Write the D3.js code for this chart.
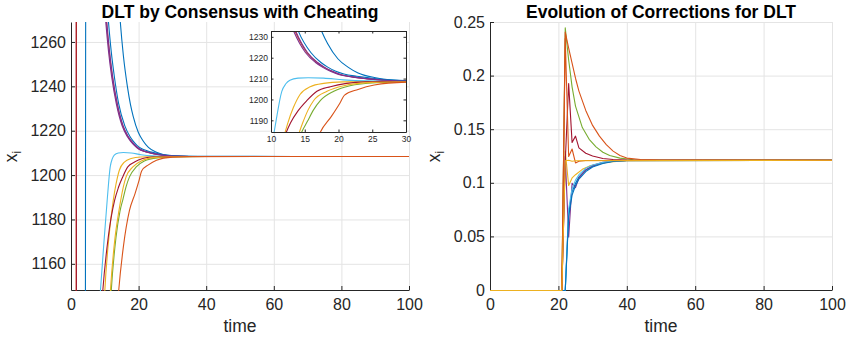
<!DOCTYPE html>
<html><head><meta charset="utf-8">
<script src="https://cdn.jsdelivr.net/npm/d3@7"></script>
<style>
html,body{margin:0;padding:0;background:#fff;}
svg{display:block;font-family:"Liberation Sans",Arial,Helvetica,sans-serif;}
</style></head><body>
<svg id="chart" width="850" height="340"></svg>
<script>
// ---------------- data ----------------
const leftTitle = "DLT by Consensus with Cheating";
const rightTitle = "Evolution of Corrections for DLT";
const xLabel = "time";
const xTicks = [0, 20, 40, 60, 80, 100];
const leftYTicks = [1160, 1180, 1200, 1220, 1240, 1260];
const rightYTicks = [0, 0.05, 0.1, 0.15, 0.2, 0.25];
const insetXTicks = [10, 15, 20, 25, 30];
const insetYTicks = [1190, 1200, 1210, 1220, 1230];
const leftYDomain = [1148.2, 1269.0];
const rightYDomain = [0, 0.25];
const insetXDomain = [10, 30];
const insetYDomain = [1184.4, 1232.8];

const palette = {
  blue: "#0072BD", orange: "#D95319", yellow: "#EDB120", purple: "#7E2F8E",
  green: "#77AC30", lightBlue: "#4DBEEE", darkRed: "#A2142F"
};

// Left panel: agent states x_i(t) as [time, value]
const agentBlueFar = [[0,-3000],[3.5,-300],[4.3,1208],[5.2,2300],[6,2127],[8,1697],[10,1467],[12.5,1326],[14.6,1269],[15.5,1254],[16.7,1240],[17.6,1232],[18.4,1226.7],[19.9,1219.5],[21.4,1215.5],[22.9,1212.7],[25.3,1210.5],[27.5,1209.4],[30,1208.9],[33,1208.7],[40,1208.6],[100,1208.6]];
const agentOrangeTop = [[0,-2500],[1.57,1208],[2.5,2200],[4,1660],[6,1457],[8,1336],[10.5,1269],[11.3,1256],[12.2,1244.9],[13.6,1232.4],[15.3,1222.5],[16.8,1217.7],[17.8,1215.5],[19,1213.5],[20.2,1212],[22.1,1210.8],[24.1,1210],[27,1209.2],[30,1208.8],[35,1208.6],[100,1208.6]];
const agentYellowA = [[0,-500],[4,500],[6,851],[8,1062],[10,1148],[11.2,1172],[12.5,1188.8],[13.3,1196],[14.3,1202.4],[15.8,1206.1],[17.8,1207.7],[20.7,1208.4],[25,1208.6],[100,1208.6]];
const agentPurpleA = [[0,3000],[4,1900],[6.5,1420],[8.5,1312],[10.3,1269],[11.1,1256],[12,1244.9],[13.4,1232.4],[15.1,1222.5],[16.6,1217.7],[17.6,1215.5],[18.8,1213.5],[20,1212],[22,1210.8],[24,1210],[27,1209.2],[30,1208.8],[35,1208.6],[100,1208.6]];
const agentGreenA = [[0,-400],[4,300],[7,850],[9.5,1060],[11.9,1148],[13.3,1172],[14.5,1184],[15.4,1189.5],[16.3,1195],[17.3,1199.4],[19.3,1203.9],[21.7,1206.6],[25.6,1208],[30,1208.4],[40,1208.6],[100,1208.6]];
const agentLightBlue = [[0,-1500],[3,600],[5,1040],[7,1110],[8.7,1148],[9.7,1169],[10.7,1188.8],[11.6,1203.9],[12.2,1207.5],[12.8,1209.2],[14,1210.2],[15.5,1210.4],[17.8,1210.2],[20.7,1209.4],[24,1208.9],[30,1208.7],[40,1208.6],[100,1208.6]];
const agentDarkRed = [[0,4000],[1.57,1208],[2.5,-1500],[4,870],[6,1030],[8,1114],[9.4,1148],[11,1172],[12.9,1188.8],[14,1194.5],[15.3,1199.4],[16.8,1203.9],[18.8,1206.1],[21.2,1207.7],[24,1208.4],[30,1208.6],[100,1208.6]];
const agentBlueB = [[0,3200],[4,2000],[7,1420],[9.2,1310],[11.1,1269],[11.9,1256],[12.8,1244.9],[14.1,1232.4],[15.9,1222.5],[17.4,1217.7],[18.4,1215.5],[19.6,1213.5],[20.8,1212.2],[22.7,1211.1],[24.7,1210.3],[27,1209.5],[30,1209],[35,1208.7],[100,1208.6]];
const agentPurpleB = [[0,2800],[4,1850],[6.5,1430],[8.6,1312],[10.6,1269],[11.4,1256],[12.3,1244.9],[13.7,1232.4],[15.4,1222.5],[16.9,1217.7],[17.9,1215.5],[19.1,1213.5],[20.3,1212],[22.2,1210.7],[24.2,1210],[27,1209.2],[30,1208.8],[35,1208.6],[100,1208.6]];
const agentOrangeLow = [[0,-800],[5,300],[8,863],[11,1061],[14.1,1148],[15.5,1168],[17.3,1184.3],[18.95,1191.9],[20.2,1198.2],[20.9,1202.1],[22.9,1204.8],[25.3,1206.9],[30,1208.3],[35,1208.55],[100,1208.6]];
const agentYellowB = [[0,-300],[4,400],[7,879],[9.5,1076],[11.65,1148],[13,1171.7],[14.2,1184.3],[14.7,1188.8],[15.5,1195],[16.3,1199.4],[18.3,1203.9],[20.8,1206.6],[25,1208.2],[30,1208.5],[40,1208.6],[100,1208.6]];

// Right panel: corrections as [time, value]
const corrBlueA = [[0,0],[22,0],[23,0.072],[24,0.092],[25,0.1],[26,0.106],[28,0.1125],[30,0.116],[33,0.119],[36,0.1205],[40,0.1212],[45,0.1214],[100,0.1215]];
const corrOrangeA = [[0,0],[21,0],[22,0.241],[23,0.226],[24,0.212],[25,0.198],[26,0.186],[28,0.168],[30,0.154],[32,0.144],[34,0.136],[36,0.13],[38,0.126],[40,0.1235],[44,0.1222],[50,0.1217],[100,0.1215]];
const corrYellowB = [[0,0],[21,0],[22,0.13],[23,0.098],[24,0.105],[25,0.108],[27,0.113],[29,0.116],[32,0.1185],[35,0.12],[40,0.121],[100,0.1215]];
const corrPurple = [[0,0],[21,0],[22,0.125],[23,0.05],[24,0.1],[25,0.096],[26,0.105],[28,0.1125],[30,0.1165],[33,0.1195],[36,0.1207],[40,0.1213],[100,0.1215]];
const corrGreen = [[0,0],[21,0],[22,0.245],[23,0.215],[24,0.19],[25,0.172],[27,0.152],[29,0.141],[31,0.134],[33,0.129],[35,0.126],[38,0.1235],[42,0.122],[100,0.1215]];
const corrLightBlue = [[0,0],[22,0],[23,0.076],[24,0.095],[25,0.103],[26,0.108],[28,0.114],[30,0.117],[33,0.1195],[36,0.1207],[40,0.1213],[100,0.1215]];
const corrDarkRed = [[0,0],[21,0],[22,0.12],[23,0.193],[24,0.138],[25,0.144],[26,0.133],[28,0.128],[30,0.1255],[33,0.1232],[36,0.1222],[40,0.1217],[100,0.1215]];
const corrBlueB = [[0,0],[22,0],[23,0.069],[24,0.089],[25,0.098],[26,0.104],[28,0.111],[30,0.1152],[33,0.1185],[36,0.1203],[40,0.1211],[100,0.1215]];
const corrOrangeB = [[0,0],[21,0],[22,0.235],[23,0.125],[24,0.132],[25,0.119],[26,0.1205],[28,0.1212],[100,0.1215]];
const corrYellowA = [[0,0],[21,0],[22,0.121],[23,0.1215],[24,0.1205],[25,0.121],[100,0.1215]];

const leftSeries = [
  {pts: agentBlueFar, color: palette.blue},
  {pts: agentOrangeTop, color: palette.orange},
  {pts: agentYellowA, color: palette.yellow},
  {pts: agentPurpleA, color: palette.purple},
  {pts: agentGreenA, color: palette.green},
  {pts: agentLightBlue, color: palette.lightBlue},
  {pts: agentDarkRed, color: palette.darkRed},
  {pts: agentBlueB, color: palette.blue},
  {pts: agentPurpleB, color: palette.purple},
  {pts: agentYellowB, color: palette.yellow},
  {pts: agentOrangeLow, color: palette.orange}
];
const rightSeries = [
  {pts: corrBlueA, color: palette.blue},
  {pts: corrYellowB, color: palette.yellow},
  {pts: corrPurple, color: palette.purple},
  {pts: corrGreen, color: palette.green},
  {pts: corrLightBlue, color: palette.lightBlue},
  {pts: corrDarkRed, color: palette.darkRed},
  {pts: corrBlueB, color: palette.blue},
  {pts: corrOrangeB, color: palette.orange},
  {pts: corrOrangeA, color: palette.orange},
  {pts: corrYellowA, color: palette.yellow}
];

// ---------------- drawing ----------------
const svg = d3.select("#chart");
const textColor = "#262626";
const gridColor = "#e4e4e4";
const defs = svg.append("defs");

function styleAxis(sel, fs) {
  sel.attr("font-size", fs).attr("font-family", null);
  sel.select(".domain").attr("stroke", textColor);
  sel.selectAll(".tick line").attr("stroke", textColor);
  sel.selectAll(".tick text").attr("fill", textColor);
}

function panel(cfg) {
  const g = svg.append("g");
  const x = d3.scaleLinear().domain([0, 100]).range(cfg.xRange);
  const y = d3.scaleLinear().domain(cfg.yDomain).range(cfg.yRange);
  // grid
  g.append("g").selectAll("line").data(xTicks.filter(d => d > 0)).join("line")
    .attr("x1", d => x(d) + 0.5).attr("x2", d => x(d) + 0.5)
    .attr("y1", cfg.yRange[0]).attr("y2", cfg.yRange[1])
    .attr("stroke", gridColor).attr("stroke-width", 1);
  g.append("g").selectAll("line").data(cfg.yTicks.filter(d => y(d) < cfg.yRange[0] - 1)).join("line")
    .attr("x1", cfg.xRange[0]).attr("x2", cfg.xRange[1])
    .attr("y1", d => y(d) + 0.5).attr("y2", d => y(d) + 0.5)
    .attr("stroke", gridColor).attr("stroke-width", 1);
  // axes
  const ax = g.append("g").attr("transform", `translate(0,${cfg.yRange[0]})`)
    .call(d3.axisBottom(x).tickValues(xTicks).tickSize(-4).tickSizeOuter(0).tickPadding(9));
  styleAxis(ax, 16);
  const ay = g.append("g").attr("transform", `translate(${cfg.xRange[0]},0)`)
    .call(d3.axisLeft(y).tickValues(cfg.yTicks).tickSize(-4).tickSizeOuter(0).tickPadding(5)
      .tickFormat(d => String(d)));
  styleAxis(ay, 16);
  // series (drawn over the axes, as in the reference)
  const cid = "clip" + cfg.id;
  defs.append("clipPath").attr("id", cid).append("rect")
    .attr("x", cfg.xRange[0]).attr("y", cfg.yRange[1])
    .attr("width", cfg.xRange[1] - cfg.xRange[0] + 1).attr("height", cfg.yRange[0] - cfg.yRange[1] + 1);
  const line = d3.line().x(d => x(d[0])).y(d => y(d[1])).curve(cfg.curve);
  g.append("g").attr("clip-path", `url(#${cid})`)
    .append("g").attr("transform", "translate(0,0.5)")
    .selectAll("path").data(cfg.series).join("path")
    .attr("d", d => line(d.pts)).attr("fill", "none")
    .attr("stroke", d => d.color).attr("stroke-width", 1.1)
    .attr("stroke-linejoin", "round");
  // titles and labels
  const cx = (cfg.xRange[0] + cfg.xRange[1]) / 2;
  g.append("text").attr("x", cx).attr("y", 17.5).attr("text-anchor", "middle")
    .attr("font-size", 17.5).attr("font-weight", "bold").attr("fill", "#000").text(cfg.title);
  g.append("text").attr("x", cx).attr("y", 331.5).attr("text-anchor", "middle")
    .attr("font-size", 17.5).attr("fill", textColor).text(xLabel);
  const yl = g.append("text").attr("transform", `translate(${cfg.ylabX},156.5) rotate(-90)`)
    .attr("text-anchor", "middle").attr("font-size", 17.5).attr("fill", textColor);
  yl.append("tspan").text("x");
  yl.append("tspan").attr("font-size", 12).attr("dy", 4).text("i");
  return {x, y, g};
}

const L = panel({id: "L", xRange: [71, 409], yRange: [290, 22], yDomain: leftYDomain,
  yTicks: leftYTicks, series: leftSeries, curve: d3.curveMonotoneX, title: leftTitle, ylabX: 16.5});
const R = panel({id: "R", xRange: [490, 832], yRange: [290, 22], yDomain: rightYDomain,
  yTicks: rightYTicks, series: rightSeries, curve: d3.curveLinear, title: rightTitle, ylabX: 440});

// ---------------- inset ----------------
(function inset() {
  const xr = [271, 406], yr = [132, 31];
  const g = svg.append("g");
  const x = d3.scaleLinear().domain(insetXDomain).range(xr);
  const y = d3.scaleLinear().domain(insetYDomain).range(yr);
  g.append("rect").attr("x", xr[0] + 0.5).attr("y", yr[1] + 0.5)
    .attr("width", xr[1] - xr[0]).attr("height", yr[0] - yr[1]).attr("fill", "#fff");
  defs.append("clipPath").attr("id", "clipI").append("rect")
    .attr("x", xr[0]).attr("y", yr[1]).attr("width", xr[1] - xr[0] + 1).attr("height", yr[0] - yr[1] + 1);
  const line = d3.line().x(d => x(d[0])).y(d => y(d[1])).curve(d3.curveMonotoneX);
  g.append("g").attr("clip-path", "url(#clipI)")
    .selectAll("path").data(leftSeries).join("path")
    .attr("d", d => line(d.pts)).attr("fill", "none")
    .attr("stroke", d => d.color).attr("stroke-width", 1.1).attr("stroke-linejoin", "round");
  const b = g.append("g").attr("transform", `translate(0,${yr[0]})`)
    .call(d3.axisBottom(x).tickValues(insetXTicks).tickSize(-2.5).tickSizeOuter(0).tickPadding(4)
      .tickFormat(d => String(d)));
  styleAxis(b, 8.5);
  const t = g.append("g").attr("transform", `translate(0,${yr[1]})`)
    .call(d3.axisTop(x).tickValues(insetXTicks).tickSize(-2.5).tickSizeOuter(0).tickFormat(""));
  styleAxis(t, 8.5);
  const l = g.append("g").attr("transform", `translate(${xr[0]},0)`)
    .call(d3.axisLeft(y).tickValues(insetYTicks).tickSize(-2.5).tickSizeOuter(0).tickPadding(3)
      .tickFormat(d => String(d)));
  styleAxis(l, 8.5);
  const r = g.append("g").attr("transform", `translate(${xr[1]},0)`)
    .call(d3.axisRight(y).tickValues(insetYTicks).tickSize(-2.5).tickSizeOuter(0).tickFormat(""));
  styleAxis(r, 8.5);
})();
</script>
</body></html>
